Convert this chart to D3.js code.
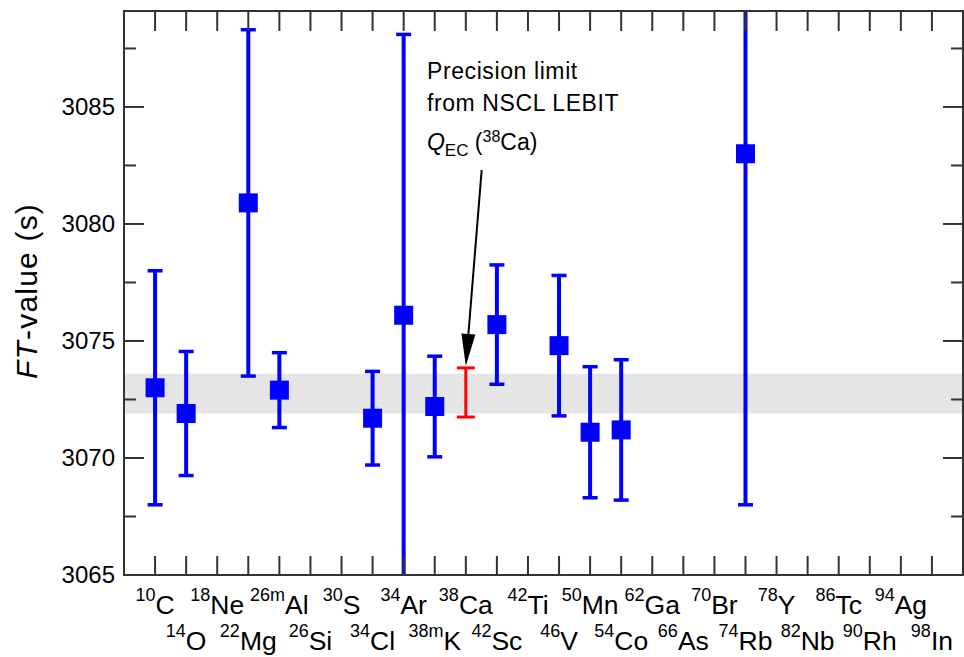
<!DOCTYPE html>
<html>
<head>
<meta charset="utf-8">
<script src="https://cdn.jsdelivr.net/npm/d3@7"></script>
<style>
  body { margin: 0; background: #fff; }
  text { font-family: "Liberation Sans", Arial, sans-serif; }
</style>
</head>
<body>
<div id="chart"></div>
<script>
// isotopes along the x axis (mass number, suffix, element)
const massNumbers = ["10", "14", "18", "22", "26m", "26", "30", "34", "34", "38m", "38", "42", "42", "46", "50", "54", "62", "66", "70", "74", "78", "82", "86", "90", "94", "98"];
const elements = ["C", "O", "Ne", "Mg", "Al", "Si", "S", "Cl", "Ar", "K", "Ca", "Sc", "Ti", "V", "Mn", "Co", "Ga", "As", "Br", "Rb", "Y", "Nb", "Tc", "Rh", "Ag", "In"];

// measured Ft values (s) and their uncertainties, null = no point
const ftValues = [3073.0, 3071.9, null, 3080.9, 3072.9, null, null, 3071.7, 3076.1, 3072.2, null, 3075.7, null, 3074.8, 3071.1, 3071.2, null, null, null, 3083.0, null, null, null, null, null, null];
const ftErrors = [5.0, 2.65, null, 7.4, 1.6, null, null, 2.0, 12.0, 2.15, null, 2.55, null, 3.0, 2.8, 3.0, null, null, null, 15.0, null, null, null, null, null, null];

// projected precision for 38Ca from the LEBIT Q_EC
const caIndex = 10;
const caValue = 3072.8;
const caError = 1.05;

// world average band
const bandRange = [3071.9, 3073.6];

const yTicksMajor = [3065, 3070, 3075, 3080, 3085];
const yTicksMinor = [3067.5, 3072.5, 3077.5, 3082.5, 3087.5];

const W = 964, H = 657;
const margin = {top: 11, right: 1, bottom: 82, left: 124};
const width = W - margin.left - margin.right;
const height = H - margin.top - margin.bottom;

const svg = d3.select("#chart").append("svg")
    .attr("width", W)
    .attr("height", H);

const g = svg.append("g")
    .attr("transform", "translate(" + margin.left + "," + margin.top + ")");

const x = d3.scaleLinear().domain([0, massNumbers.length + 1]).range([0, width]);
const y = d3.scaleLinear().domain([3065, 3089.1]).range([height, 0]);

g.append("clipPath").attr("id", "clip")
    .append("rect").attr("width", width).attr("height", height);

const plot = g.append("g").attr("clip-path", "url(#clip)");

// grey band
plot.append("rect")
    .attr("x", 0)
    .attr("width", width)
    .attr("y", y(bandRange[1]))
    .attr("height", y(bandRange[0]) - y(bandRange[1]))
    .attr("fill", "#e5e5e5");

const pts = ftValues.map((v, i) => ({i: i + 1, v: v, e: ftErrors[i]})).filter(d => d.v !== null);

const blue = "#0000ff";
const capW = 15;

// error bars
plot.selectAll(".err").data(pts).enter().append("line")
    .attr("x1", d => x(d.i)).attr("x2", d => x(d.i))
    .attr("y1", d => y(d.v - d.e)).attr("y2", d => y(d.v + d.e))
    .attr("stroke", blue).attr("stroke-width", 4);

plot.selectAll(".capTop").data(pts).enter().append("line")
    .attr("x1", d => x(d.i) - capW / 2).attr("x2", d => x(d.i) + capW / 2)
    .attr("y1", d => y(d.v + d.e)).attr("y2", d => y(d.v + d.e))
    .attr("stroke", blue).attr("stroke-width", 3.5);

plot.selectAll(".capBot").data(pts).enter().append("line")
    .attr("x1", d => x(d.i) - capW / 2).attr("x2", d => x(d.i) + capW / 2)
    .attr("y1", d => y(d.v - d.e)).attr("y2", d => y(d.v - d.e))
    .attr("stroke", blue).attr("stroke-width", 3.5);

plot.selectAll(".sq").data(pts).enter().append("rect")
    .attr("x", d => x(d.i) - 9.5).attr("y", d => y(d.v) - 9.5)
    .attr("width", 19).attr("height", 19)
    .attr("fill", blue);

// red 38Ca bar
const red = "#ff0000";
const cx = x(caIndex + 1);
plot.append("line")
    .attr("x1", cx).attr("x2", cx)
    .attr("y1", y(caValue - caError)).attr("y2", y(caValue + caError))
    .attr("stroke", red).attr("stroke-width", 3);
[caValue - caError, caValue + caError].forEach(v => {
    plot.append("line")
        .attr("x1", cx - 9).attr("x2", cx + 9)
        .attr("y1", y(v)).attr("y2", y(v))
        .attr("stroke", red).attr("stroke-width", 3);
});

// frame and ticks
const axisCol = "#333";
const xt = d3.range(1, massNumbers.length + 1);

g.selectAll(".xtb").data(xt).enter().append("line")
    .attr("x1", d => x(d)).attr("x2", d => x(d))
    .attr("y1", height).attr("y2", height - 19)
    .attr("stroke", axisCol).attr("stroke-width", 2);
g.selectAll(".xtt").data(xt).enter().append("line")
    .attr("x1", d => x(d)).attr("x2", d => x(d))
    .attr("y1", 0).attr("y2", 20)
    .attr("stroke", axisCol).attr("stroke-width", 2);

[[yTicksMajor, 20], [yTicksMinor, 12]].forEach(([ticks, len]) => {
    g.selectAll(null).data(ticks).enter().append("line")
        .attr("x1", 0).attr("x2", len)
        .attr("y1", d => y(d)).attr("y2", d => y(d))
        .attr("stroke", axisCol).attr("stroke-width", 2);
    g.selectAll(null).data(ticks).enter().append("line")
        .attr("x1", width).attr("x2", width - len)
        .attr("y1", d => y(d)).attr("y2", d => y(d))
        .attr("stroke", axisCol).attr("stroke-width", 2);
});

g.append("rect")
    .attr("width", width).attr("height", height)
    .attr("fill", "none").attr("stroke", axisCol).attr("stroke-width", 2);

// y tick labels
g.selectAll(".ylab").data(yTicksMajor).enter().append("text")
    .attr("x", -9).attr("y", d => y(d))
    .attr("dy", "0.35em")
    .attr("text-anchor", "end")
    .attr("font-size", 24)
    .text(d => d);

// y title
const yt = g.append("text")
    .attr("transform", "translate(-87," + (y(3075) - 50) + ") rotate(-90)")
    .attr("text-anchor", "middle")
    .attr("font-size", 30)
    .attr("letter-spacing", 1.2);
yt.append("tspan").attr("font-style", "italic").text("FT");
yt.append("tspan").text("-value (s)");

// x labels, alternating rows
xt.forEach((d, k) => {
    const row = k % 2;
    const t = g.append("text")
        .attr("x", x(d))
        .attr("y", height + (row === 0 ? 39 : 75))
        .attr("text-anchor", "middle")
        .attr("font-size", 26.5);
    t.append("tspan").attr("font-size", 18).attr("dy", -13).text(massNumbers[k]);
    t.append("tspan").attr("dy", 13).text(elements[k]);
});

// annotation
const annX = x(9.75);
const ann = g.append("text")
    .attr("font-size", 23)
    .attr("letter-spacing", 0.6);
ann.append("tspan").attr("x", annX).attr("y", 68).text("Precision limit");
ann.append("tspan").attr("x", annX).attr("y", 100).text("from NSCL LEBIT");
const q = g.append("text").attr("x", annX).attr("y", 139).attr("font-size", 23);
q.append("tspan").attr("font-style", "italic").text("Q");
q.append("tspan").attr("font-size", 17).attr("dy", 6).text("EC");
q.append("tspan").attr("dy", -6).text(" (");
q.append("tspan").attr("font-size", 16).attr("dy", -8).text("38");
q.append("tspan").attr("dy", 8).text("Ca)");

const tipX = cx, tipY = y(caValue + caError) - 2;
const startX = x(11.51), startY = y(3082.3);
const ang = Math.atan2(tipY - startY, tipX - startX);
const headLen = 32, headHalf = 7;
const bx = tipX - headLen * Math.cos(ang), by = tipY - headLen * Math.sin(ang);
g.append("line")
    .attr("x1", startX).attr("y1", startY)
    .attr("x2", bx).attr("y2", by)
    .attr("stroke", "#000").attr("stroke-width", 2);
g.append("path")
    .attr("d", d3.line()([
        [tipX, tipY],
        [bx + headHalf * Math.sin(ang), by - headHalf * Math.cos(ang)],
        [bx - headHalf * Math.sin(ang), by + headHalf * Math.cos(ang)]
    ]) + "Z")
    .attr("fill", "#000");
</script>
</body>
</html>
